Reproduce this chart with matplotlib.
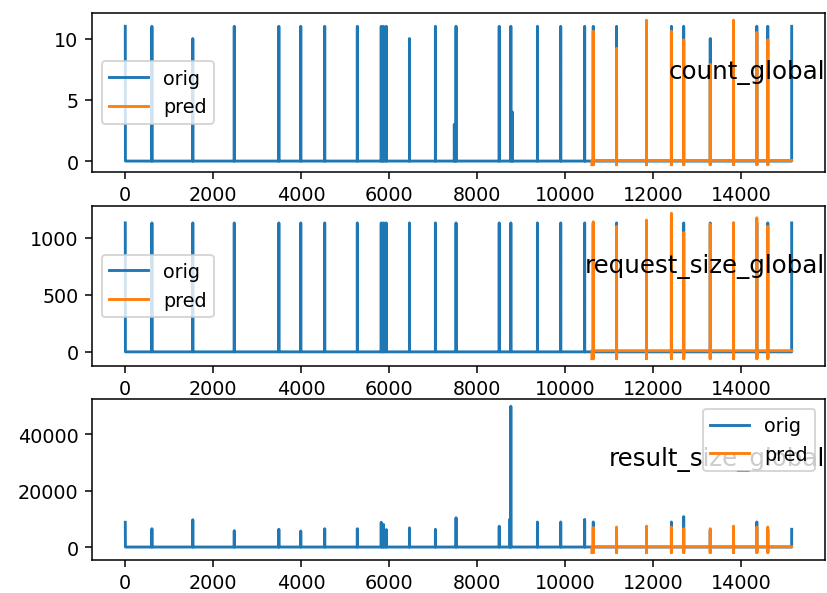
import numpy as np
import matplotlib.pyplot as plt

# sample index where each burst shows up in the original series
spike_pos = [0, 605, 1534, 2476, 3489, 3987, 4531, 5272, 5815, 5868, 5929,
             6457, 7046, 7515, 8496, 8760, 9364, 9893, 10437, 10633, 11162,
             11842, 12408, 12687, 13291, 13820, 14348, 14597, 15141]

count_orig = [11, 11, 10, 11, 11, 11, 11, 11, 11, 11, 11,
              10, 11, 11, 11, 11, 11, 11, 11, 11, 11,
              11, 11, 11, 10, 11, 11, 11, 11]
request_orig = [1130] * len(spike_pos)
result_orig = [8800, 6500, 9700, 5800, 6300, 5700, 6500, 6500, 8800, 8000, 6200,
               6800, 6300, 10400, 7400, 50000, 8900, 8900, 9800, 8900, 6000,
               6000, 8900, 10800, 6000, 6000, 8900, 6000, 6300]

# a few smaller bursts
small_pos = [7476, 8740, 8797]
count_small = [3, 0, 4]
request_small = [0, 0, 0]
result_small = [0, 10000, 0]

# predictions on the test part
pred_start = 10600
pred_pos = [10633, 11162, 11842, 12408, 12687, 13291, 13820, 14348, 14597]
count_pred = [10.6, 9.2, 11.5, 10.6, 9.9, 7.9, 11.5, 10.5, 9.9]
request_pred = [1140, 1100, 1155, 1215, 1045, 1120, 1130, 1175, 1100]
result_pred = [6900, 7100, 7460, 7100, 6500, 6500, 7460, 7100, 7100]

n_samples = 15142
names = ['count_global', 'request_size_global', 'result_size_global']
pred_base = [0.05, 10, 100]
pred_dip = [-0.3, -60, -2000]


def build_orig(big, small):
	y = np.zeros(n_samples)
	y[spike_pos] = big
	for p, v in zip(small_pos, small):
		if v > 0:
			y[p] = v
	return y


def build_pred(vals, base, dip):
	x = np.arange(pred_start, n_samples)
	y = np.full(len(x), base)
	y[0] = dip
	for p, v in zip(pred_pos, vals):
		i = p - pred_start
		y[i - 1] = dip
		y[i] = v
		y[i + 1] = dip
	return x, y


origs = [build_orig(count_orig, count_small),
         build_orig(request_orig, request_small),
         build_orig(result_orig, result_small)]
preds = [count_pred, request_pred, result_pred]
legend_loc = ['center left', 'center left', 'upper right']

fig = plt.figure(figsize=(827 / 138, 594 / 138), dpi=138)
# axes boxes (fractions of the figure)
boxes = [[0.1112, 0.7088, 0.8864, 0.2677],
         [0.1112, 0.3822, 0.8864, 0.2694],
         [0.1112, 0.0556, 0.8864, 0.2710]]

for k in range(3):
	ax = fig.add_axes(boxes[k])
	ax.plot(np.arange(n_samples), origs[k], label='orig')
	px, py = build_pred(preds[k], pred_base[k], pred_dip[k])
	ax.plot(px, py, label='pred')
	ax.legend(loc=legend_loc[k])
	ax.text(1.0, 0.63, names[k], transform=ax.transAxes, ha='right', va='center', fontsize=12.8)

fig.savefig('out.png', dpi=138)
